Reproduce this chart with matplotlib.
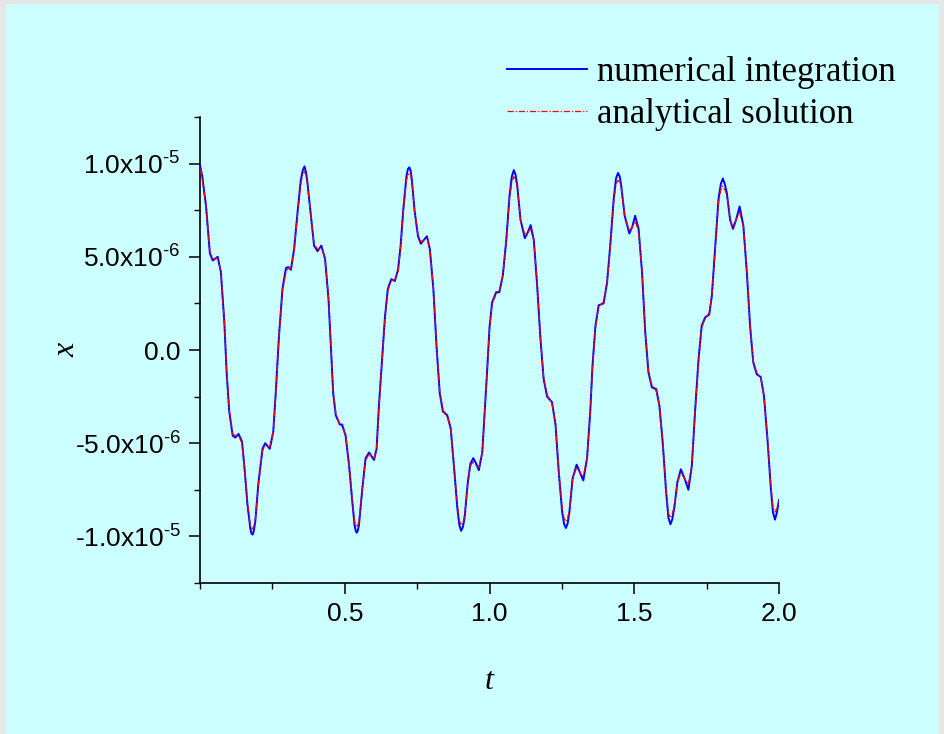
import matplotlib
matplotlib.use("Agg")
import matplotlib.pyplot as plt
from matplotlib.patches import Rectangle
from matplotlib.ticker import FixedLocator, MultipleLocator

# values (x in units of 1e-5)
t = [0.000, 0.008, 0.021, 0.034, 0.044, 0.061, 0.072, 0.084, 0.092, 0.101,
     0.113, 0.122, 0.133, 0.145, 0.153, 0.164, 0.174, 0.178, 0.182, 0.186,
     0.191, 0.202, 0.216, 0.225, 0.241,
     0.253, 0.262, 0.273, 0.285, 0.297, 0.305, 0.314, 0.325, 0.337, 0.348,
     0.355, 0.361, 0.366, 0.371, 0.383, 0.394, 0.406, 0.419, 0.432, 0.444,
     0.452, 0.460, 0.469, 0.483, 0.491,
     0.503, 0.515, 0.527, 0.534, 0.538, 0.541, 0.545, 0.549, 0.561, 0.572,
     0.584, 0.601, 0.610, 0.618, 0.630, 0.639, 0.649, 0.661, 0.673, 0.684,
     0.693, 0.702, 0.713, 0.718, 0.723, 0.728, 0.732, 0.741,
     0.753, 0.763, 0.773, 0.784, 0.794, 0.806, 0.817, 0.828, 0.839, 0.854,
     0.866, 0.877, 0.889, 0.896, 0.902, 0.908, 0.914, 0.925, 0.934, 0.944,
     0.954, 0.963, 0.975, 0.986, 0.993,
     1.000, 1.009, 1.023, 1.034, 1.046, 1.058, 1.069, 1.077, 1.084, 1.090,
     1.096, 1.107, 1.122, 1.132, 1.142, 1.153, 1.164, 1.176, 1.187, 1.199,
     1.216, 1.228, 1.239,
     1.251, 1.258, 1.264, 1.270, 1.276, 1.287, 1.301, 1.313, 1.324, 1.337,
     1.348, 1.356, 1.366, 1.377, 1.394, 1.406, 1.417, 1.429, 1.437, 1.444,
     1.450, 1.455, 1.467, 1.483, 1.493,
     1.503, 1.515, 1.527, 1.538, 1.549, 1.561, 1.576, 1.587, 1.599, 1.610,
     1.618, 1.625, 1.631, 1.638, 1.649, 1.661, 1.674, 1.687, 1.699, 1.710,
     1.722, 1.733, 1.745,
     1.759, 1.768, 1.779, 1.791, 1.799, 1.806, 1.813, 1.820, 1.831, 1.841,
     1.852, 1.864, 1.877, 1.889, 1.900, 1.911, 1.923, 1.937, 1.948, 1.960,
     1.971, 1.979, 1.986, 1.993, 2.000]

numerical = [0.99, 0.93, 0.77, 0.52, 0.48, 0.50, 0.42, 0.15, -0.12, -0.33,
             -0.46, -0.47, -0.45, -0.49, -0.62, -0.83, -0.96, -0.985, -0.99, -0.97,
             -0.92, -0.71, -0.53, -0.50, -0.53,
             -0.44, -0.22, 0.08, 0.33, 0.44, 0.445, 0.43, 0.54, 0.74, 0.91,
             0.965, 0.985, 0.955, 0.90, 0.72, 0.56, 0.53, 0.56, 0.49, 0.27,
             0.02, -0.23, -0.35, -0.40, -0.40,
             -0.46, -0.62, -0.83, -0.94, -0.97, -0.98, -0.97, -0.94, -0.74, -0.58,
             -0.55, -0.59, -0.53, -0.30, -0.03, 0.18, 0.33, 0.38, 0.37, 0.43,
             0.56, 0.75, 0.93, 0.97, 0.98, 0.96, 0.91, 0.75,
             0.61, 0.57, 0.59, 0.61, 0.54, 0.33, 0.02, -0.23, -0.33, -0.35,
             -0.42, -0.62, -0.85, -0.94, -0.97, -0.95, -0.90, -0.71, -0.61, -0.58,
             -0.61, -0.645, -0.55, -0.26, -0.08,
             0.12, 0.255, 0.31, 0.31, 0.40, 0.59, 0.825, 0.93, 0.965, 0.94,
             0.88, 0.70, 0.60, 0.63, 0.67, 0.59, 0.36, 0.06, -0.155, -0.25,
             -0.28, -0.40, -0.65,
             -0.87, -0.935, -0.955, -0.93, -0.87, -0.69, -0.615, -0.66, -0.70, -0.58,
             -0.33, -0.08, 0.13, 0.24, 0.25, 0.36, 0.56, 0.81, 0.92, 0.95,
             0.93, 0.88, 0.72, 0.625, 0.66,
             0.72, 0.65, 0.415, 0.095, -0.12, -0.20, -0.21, -0.30, -0.51, -0.76,
             -0.90, -0.935, -0.91, -0.85, -0.71, -0.64, -0.69, -0.75, -0.62, -0.33,
             -0.05, 0.13, 0.175,
             0.19, 0.29, 0.54, 0.81, 0.89, 0.92, 0.89, 0.84, 0.70, 0.65,
             0.70, 0.77, 0.665, 0.415, 0.13, -0.065, -0.13, -0.145, -0.245, -0.475,
             -0.725, -0.87, -0.91, -0.87, -0.805]

analytical = [0.97, 0.92, 0.76, 0.53, 0.49, 0.49, 0.42, 0.16, -0.11, -0.32,
              -0.45, -0.46, -0.46, -0.50, -0.62, -0.82, -0.94, -0.955, -0.96, -0.945,
              -0.91, -0.72, -0.54, -0.51, -0.52,
              -0.44, -0.23, 0.07, 0.32, 0.42, 0.44, 0.44, 0.53, 0.73, 0.89,
              0.94, 0.96, 0.935, 0.89, 0.72, 0.57, 0.54, 0.55, 0.49, 0.28,
              0.03, -0.22, -0.34, -0.40, -0.41,
              -0.46, -0.61, -0.82, -0.92, -0.94, -0.95, -0.94, -0.92, -0.74, -0.59,
              -0.56, -0.58, -0.53, -0.31, -0.04, 0.17, 0.32, 0.37, 0.38, 0.42,
              0.55, 0.74, 0.91, 0.94, 0.95, 0.935, 0.90, 0.75,
              0.62, 0.58, 0.59, 0.60, 0.54, 0.34, 0.03, -0.22, -0.32, -0.36,
              -0.42, -0.61, -0.83, -0.915, -0.94, -0.925, -0.89, -0.72, -0.62, -0.60,
              -0.62, -0.63, -0.55, -0.27, -0.08,
              0.11, 0.25, 0.30, 0.32, 0.40, 0.58, 0.81, 0.90, 0.93, 0.91,
              0.87, 0.70, 0.62, 0.63, 0.65, 0.59, 0.37, 0.07, -0.15, -0.24,
              -0.29, -0.40, -0.64,
              -0.85, -0.905, -0.92, -0.90, -0.86, -0.69, -0.63, -0.66, -0.68, -0.58,
              -0.34, -0.09, 0.12, 0.23, 0.26, 0.36, 0.55, 0.79, 0.89, 0.91,
              0.90, 0.87, 0.72, 0.64, 0.66,
              0.69, 0.64, 0.42, 0.10, -0.11, -0.19, -0.22, -0.30, -0.50, -0.75,
              -0.875, -0.90, -0.88, -0.84, -0.71, -0.66, -0.69, -0.72, -0.62, -0.34,
              -0.06, 0.12, 0.17,
              0.20, 0.29, 0.53, 0.79, 0.86, 0.88, 0.86, 0.83, 0.70, 0.66,
              0.70, 0.74, 0.66, 0.42, 0.14, -0.06, -0.12, -0.15, -0.25, -0.47,
              -0.71, -0.84, -0.87, -0.85, -0.81]

x_ticks = [0.5, 1.0, 1.5, 2.0]
x_tick_labels = ["0.5", "1.0", "1.5", "2.0"]
y_ticks = [-1.0e-5, -5.0e-6, 0.0, 5.0e-6, 1.0e-5]
y_tick_labels = ["-1.0x10$^{\\text{-5}}$", "-5.0x10$^{\\text{-6}}$", "0.0",
                 "5.0x10$^{\\text{-6}}$", "1.0x10$^{\\text{-5}}$"]

plt.rcParams["mathtext.fontset"] = "custom"
plt.rcParams["mathtext.rm"] = "Liberation Sans"
plt.rcParams["mathtext.default"] = "regular"
plt.rcParams["font.family"] = "Liberation Sans"

W, H = 944, 734
bg = "#ccffff"

fig = plt.figure(figsize=(W / 100, H / 100), dpi=100, facecolor="#e6e6e6")
# cyan page inside the grey frame
fig.patches.append(Rectangle((6 / W, 0), (939 - 6) / W, (H - 4) / H,
                             transform=fig.transFigure, facecolor=bg,
                             edgecolor="none", zorder=-10))

ax = fig.add_axes([200 / W, (H - 583) / H, (779 - 200) / W, (583 - 117) / H])
ax.set_facecolor(bg)
ax.set_zorder(1)

xs = [v * 1e-5 for v in numerical]
xa = [v * 1e-5 for v in analytical]
ax.plot(t, xs, color="#0000ff", lw=1.4, label="numerical integration",
        zorder=3, solid_joinstyle="round")
ax.plot(t, xa, color="#ff0000", lw=0.9, ls=(0, (5, 1.5, 1, 1.5)),
        label="analytical solution", zorder=4)

ax.set_xlim(0, 2.0)
ax.set_ylim(-1.25e-5, 1.25e-5)

for side in ["top", "right"]:
    ax.spines[side].set_visible(False)
for side in ["left", "bottom"]:
    ax.spines[side].set_linewidth(1.2)

ax.xaxis.set_major_locator(FixedLocator(x_ticks))
ax.set_xticklabels(x_tick_labels)
ax.xaxis.set_minor_locator(MultipleLocator(0.25))
ax.yaxis.set_major_locator(FixedLocator(y_ticks))
ax.set_yticklabels(y_tick_labels)
ax.yaxis.set_minor_locator(MultipleLocator(2.5e-6))

ax.tick_params(which="major", direction="out", length=8, width=1.1,
               labelsize=19, pad=6)
ax.tick_params(which="minor", direction="out", length=4, width=1.0)

ax.set_xlabel("t", fontfamily="Liberation Serif", style="italic",
              fontsize=23, labelpad=29)
ax.set_ylabel("x", fontfamily="Liberation Serif", style="italic",
              fontsize=23, labelpad=-5)

leg = fig.legend(loc="upper right", bbox_to_anchor=(927 / W, 1 - 25 / H),
                 frameon=False, handlelength=2.3, handletextpad=0.3,
                 labelspacing=0.25,
                 prop={"family": "Liberation Serif", "size": 25})

fig.savefig("out.png", dpi=100, facecolor=fig.get_facecolor())
